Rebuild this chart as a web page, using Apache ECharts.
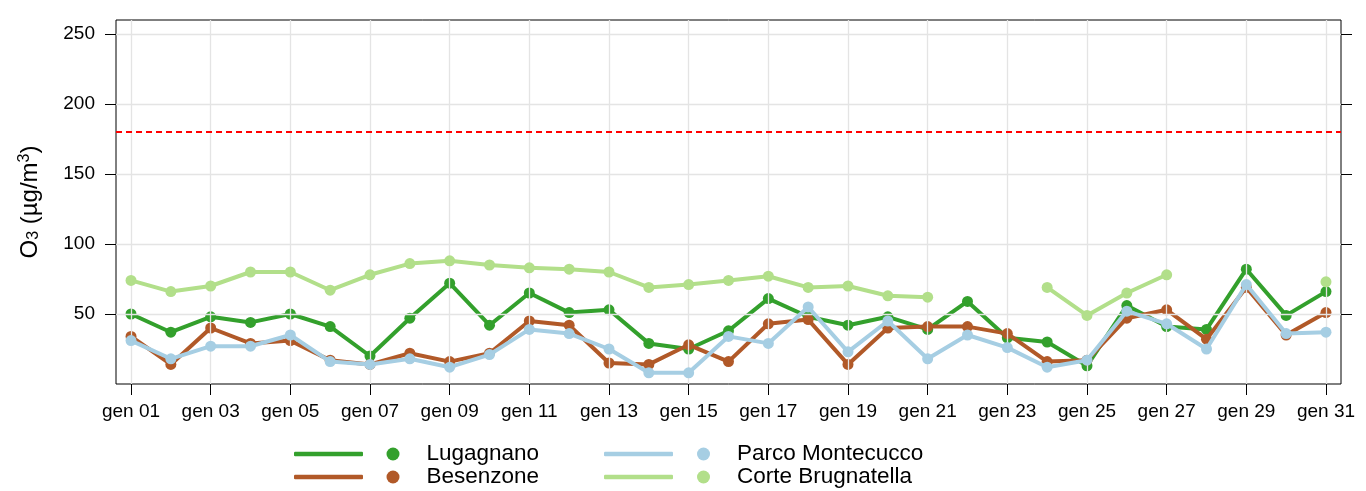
<!DOCTYPE html>
<html>
<head>
<meta charset="utf-8">
<script src="https://cdn.jsdelivr.net/npm/echarts@6/dist/echarts.min.js"></script>
<style>
  html, body { margin: 0; padding: 0; background: #ffffff; }
  #chart { width: 1366px; height: 491px; }
</style>
</head>
<body>
<div id="chart"></div>
<script>
// Daily ozone (O3) means, January, four monitoring stations
const days = [1, 2, 3, 4, 5, 6, 7, 8, 9, 10, 11, 12, 13, 14, 15, 16,
              17, 18, 19, 20, 21, 22, 23, 24, 25, 26, 27, 28, 29, 30, 31];

const xTickValues = [1, 3, 5, 7, 9, 11, 13, 15, 17, 19, 21, 23, 25, 27, 29, 31];
const xTickLabels = ['gen 01', 'gen 03', 'gen 05', 'gen 07', 'gen 09', 'gen 11', 'gen 13', 'gen 15',
                     'gen 17', 'gen 19', 'gen 21', 'gen 23', 'gen 25', 'gen 27', 'gen 29', 'gen 31'];
const yTickValues = [50, 100, 150, 200, 250];

const stationNames = ['Lugagnano', 'Besenzone', 'Parco Montecucco', 'Corte Brugnatella'];
const stationColors = ['#33a02c', '#b15928', '#a6cee3', '#b2df8a'];

const lugagnano = [50, 37, 48, 44, 50, 41, 20, 47, 72, 42, 65, 51, 53, 29, 25, 38,
                   61, 48, 42, 48, 39, 59, 33, 30, 13, 56, 41, 39, 82, 49, 66];
const besenzone = [34, 14, 40, 29, 31, 17, 14, 22, 16, 22, 45, 42, 15, 14, 28, 16,
                   43, 46, 14, 40, 41, 41, 36, 16, 17, 47, 53, 32, 69, 35, 51];
const parcoMontecucco = [31, 18, 27, 27, 35, 16, 14, 18, 12, 21, 39, 36, 25, 8, 8, 34,
                         29, 55, 23, 45, 18, 35, 26, 12, 17, 52, 43, 25, 71, 36, 37];
const corteBrugnatella = [74, 66, 70, 80, 80, 67, 78, 86, 88, 85, 83, 82, 80, 69, 71, 74,
                          77, 69, 70, 63, 62, null, null, 69, 49, 65, 78, null, null, null, 73];

// Information threshold for ozone
const threshold = 180;

const stationValues = [lugagnano, besenzone, parcoMontecucco, corteBrugnatella];

const FONT = 'Liberation Sans, Arial, Helvetica, sans-serif';

function pairs(values) {
  return days.map((d, i) => [d, values[i] == null ? null : values[i]]);
}

// Background grid: one line per labelled tick on each axis
const gridSeries = {
  name: 'grid',
  type: 'line',
  data: [],
  silent: true,
  z: 1,
  markLine: {
    silent: true,
    symbol: ['none', 'none'],
    label: { show: false },
    lineStyle: { color: '#e4e4e4', type: 'solid', width: 1.3 },
    emphasis: { disabled: true },
    animation: false,
    data: xTickValues.map(v => ({ xAxis: v })).concat(yTickValues.map(v => ({ yAxis: v })))
  }
};

const stationSeries = stationNames.map((name, k) => {
  const s = {
    name: name,
    type: 'line',
    xAxisIndex: 0,
    yAxisIndex: 0,
    data: pairs(stationValues[k]),
    symbol: 'circle',
    symbolSize: 11,
    showSymbol: true,
    showAllSymbol: true,
    connectNulls: false,
    color: stationColors[k],
    lineStyle: { width: 4, color: stationColors[k], cap: 'round', join: 'round' },
    itemStyle: { color: stationColors[k] },
    emphasis: { disabled: true },
    z: 3 + k
  };
  if (k === 0) {
    s.markLine = {
      silent: true,
      symbol: ['none', 'none'],
      label: { show: false },
      lineStyle: { color: '#ff0000', type: [6, 4], width: 2 },
      emphasis: { disabled: true },
      data: [{ yAxis: threshold }]
    };
  }
  return s;
});

const xRange = { min: 0.623, max: 31.377 };
const yRange = { min: 0, max: 260 };

const tickStyle = { color: '#000000', width: 1 };

const legendText = { fontFamily: FONT, fontSize: 22.5, color: '#000000' };

function lineLegend(names, left) {
  return {
    data: names,
    orient: 'vertical',
    left: left,
    top: 442.5,
    icon: 'roundRect',
    itemWidth: 69,
    itemHeight: 4.5,
    itemGap: 0,
    padding: 0,
    formatter: () => ' ',
    textStyle: legendText
  };
}
function dotLegend(names, left) {
  return {
    data: names,
    orient: 'vertical',
    left: left,
    top: 442.5,
    icon: 'circle',
    itemWidth: 13,
    itemHeight: 13,
    itemGap: 0,
    padding: 0,
    textStyle: Object.assign({ padding: [0, 0, 0, 22] }, legendText)
  };
}

const option = {
  animation: false,
  backgroundColor: '#ffffff',
  textStyle: { fontFamily: FONT },
  grid: {
    left: 116, right: 25, top: 20, bottom: 107,
    show: true, borderColor: '#000000', borderWidth: 1, backgroundColor: 'transparent'
  },
  legend: [
    lineLegend(stationNames.slice(0, 2), 294),
    dotLegend(stationNames.slice(0, 2), 386.5),
    lineLegend(stationNames.slice(2, 4), 604),
    dotLegend(stationNames.slice(2, 4), 697)
  ],
  xAxis: [
    {
      type: 'value', position: 'bottom', min: xRange.min, max: xRange.max,
      axisLine: { show: false },
      axisTick: { show: true, inside: false, length: 11, customValues: xTickValues, lineStyle: tickStyle },
      axisLabel: {
        show: true, customValues: xTickValues, margin: 18,
        fontFamily: FONT, fontSize: 19, color: '#000000',
        formatter: v => xTickLabels[xTickValues.indexOf(v)]
      },
      splitLine: { show: false }
    },
    {
      type: 'value', position: 'top', min: xRange.min, max: xRange.max,
      axisLine: { show: false },
      axisTick: { show: true, inside: false, length: 11, customValues: xTickValues, lineStyle: tickStyle },
      axisLabel: { show: false },
      splitLine: { show: false }
    }
  ],
  yAxis: [
    {
      type: 'value', position: 'left', min: yRange.min, max: yRange.max,
      axisLine: { show: false },
      axisTick: { show: true, inside: false, length: 11, customValues: yTickValues, lineStyle: tickStyle },
      axisLabel: {
        show: true, customValues: yTickValues, margin: 21,
        fontFamily: FONT, fontSize: 19, color: '#000000'
      },
      splitLine: { show: false },
      name: '{a|O}{b|3}{a| (µg/m}{c|3}{a|)}',
      nameLocation: 'middle',
      nameRotate: 90,
      nameGap: 70,
      nameTextStyle: {
        fontFamily: FONT, fontSize: 24, color: '#000000',
        rich: {
          a: { fontFamily: FONT, fontSize: 24, color: '#000000', lineHeight: 32, verticalAlign: 'middle' },
          b: { fontFamily: FONT, fontSize: 16, color: '#000000', lineHeight: 32, verticalAlign: 'bottom', padding: [0, 0, 4, 0] },
          c: { fontFamily: FONT, fontSize: 16, color: '#000000', lineHeight: 32, verticalAlign: 'top', padding: [3, 0, 0, 0] }
        }
      }
    },
    {
      type: 'value', position: 'right', min: yRange.min, max: yRange.max,
      axisLine: { show: false },
      axisTick: { show: true, inside: false, length: 11, customValues: yTickValues, lineStyle: tickStyle },
      axisLabel: { show: false },
      splitLine: { show: false }
    }
  ],
  series: [gridSeries].concat(stationSeries)
};

const chart = echarts.init(document.getElementById('chart'), null, { renderer: 'canvas' });
chart.setOption(option);
</script>
</body>
</html>
